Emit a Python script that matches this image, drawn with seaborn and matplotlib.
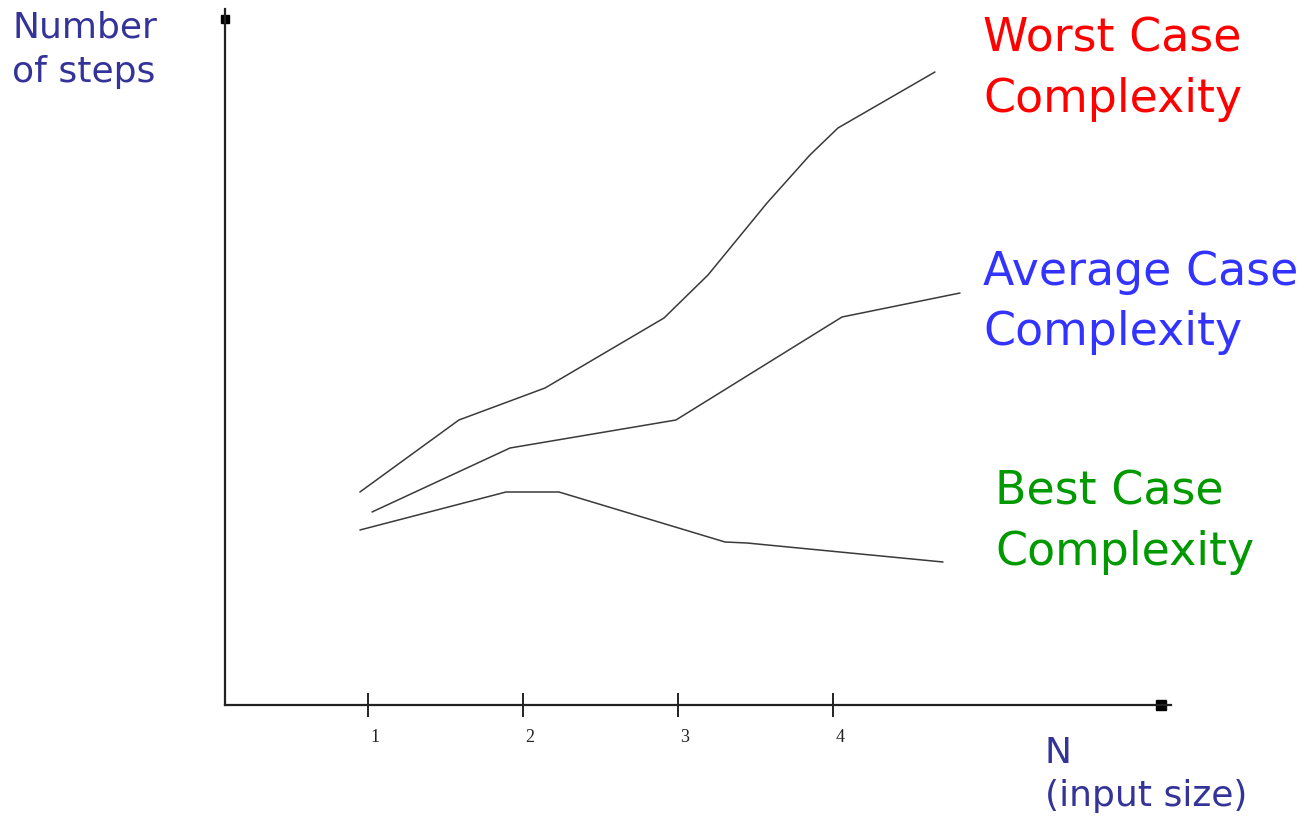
import matplotlib
matplotlib.use("Agg")
import matplotlib.pyplot as plt
import matplotlib.transforms as mtransforms
import seaborn as sns
import pandas as pd

# ---- data ----
worst_x = [0.948, 1.587, 2.143, 2.911, 3.195, 3.576, 3.853, 4.034, 4.660]
worst_y = [2.13, 2.85, 3.17, 3.87, 4.30, 5.02, 5.50, 5.77, 6.33]

avg_x = [1.026, 1.917, 2.988, 4.060, 4.822]
avg_y = [1.93, 2.57, 2.85, 3.88, 4.12]

best_x = [0.948, 1.891, 2.233, 3.305, 3.447, 4.712]
best_y = [1.75, 2.13, 2.13, 1.63, 1.62, 1.43]

tick_pos = [1, 2, 3, 4]
tick_labels = ["1", "2", "3", "4"]

series_names = ["Worst", "Average", "Best"]

df = pd.concat([
    pd.DataFrame({"N": worst_x, "steps": worst_y, "case": "Worst"}),
    pd.DataFrame({"N": avg_x, "steps": avg_y, "case": "Average"}),
    pd.DataFrame({"N": best_x, "steps": best_y, "case": "Best"}),
], ignore_index=True)

sns.set_style("white")
plt.rcParams["font.family"] = ["DejaVu Sans"]

fig = plt.figure(figsize=(13.14, 8.19), dpi=100)
ax = fig.add_axes([225 / 1314, 1 - 705 / 819, (1171 - 225) / 1314, (705 - 9) / 819])

sns.lineplot(data=df, x="N", y="steps", hue="case", units="case", estimator=None,
             palette={n: "#3a3a3a" for n in series_names}, linewidth=1.1,
             legend=False, ax=ax, sort=False)

ax.set_xlim(0.077, 6.184)
ax.set_ylim(0, 6.96)

for s in ["top", "right"]:
    ax.spines[s].set_visible(False)
for s in ["left", "bottom"]:
    ax.spines[s].set_color("#222222")
    ax.spines[s].set_linewidth(1.6)

ax.set_xticks(tick_pos)
ax.set_xticklabels(tick_labels, family="Liberation Serif", fontsize=13, color="#222222")
ax.tick_params(axis="x", bottom=True, direction="inout", length=17, width=1.4,
               color="#222222", pad=9)
ax.tick_params(axis="y", left=False)
ax.set_yticks([])
ax.set_xlabel("")
ax.set_ylabel("")

offset = mtransforms.ScaledTranslation(7 / 100, 0, fig.dpi_scale_trans)
for lab in ax.get_xticklabels():
    lab.set_transform(lab.get_transform() + offset)

# axis end markers
ax.plot([0.9894], [0], marker="s", markersize=7, color="black", transform=ax.transAxes, clip_on=False)
ax.plot([0], [0.985], marker="s", markersize=6, color="black", transform=ax.transAxes, clip_on=False)

# texts
fig.text(12 / 1314, 1 - 10 / 819, "Number\nof steps", color="#333399", fontsize=26,
         ha="left", va="top", linespacing=1.4)
fig.text(983 / 1314, 1 - 17 / 819, "Worst Case\nComplexity", color="#ff0000", fontsize=33,
         ha="left", va="top", linespacing=1.42)
fig.text(983 / 1314, 1 - 250 / 819, "Average Case\nComplexity", color="#3333ff", fontsize=33,
         ha="left", va="top", linespacing=1.42)
fig.text(995 / 1314, 1 - 470 / 819, "Best Case\nComplexity", color="#009900", fontsize=33,
         ha="left", va="top", linespacing=1.42)
fig.text(1045 / 1314, 1 - 736 / 819, "N\n(input size)", color="#333399", fontsize=26,
         ha="left", va="top", linespacing=1.35)

fig.savefig("out.png", dpi=100, facecolor="white")
